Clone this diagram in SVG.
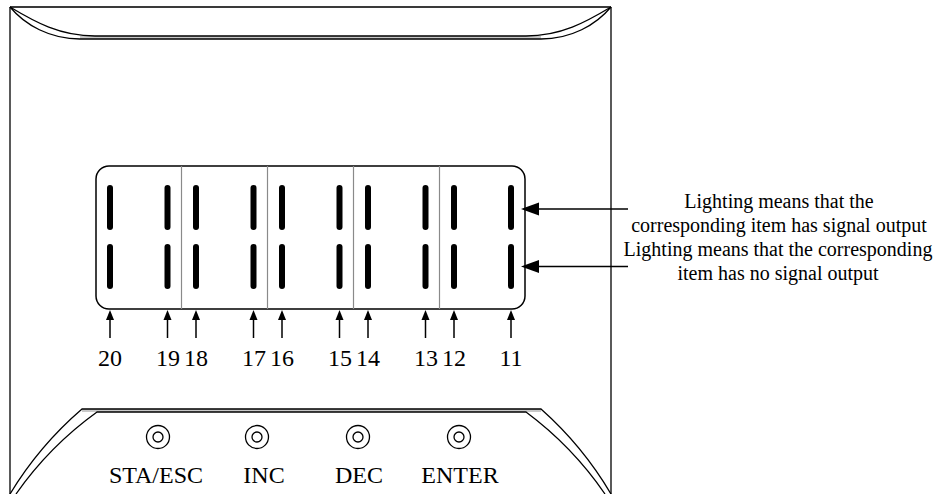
<svg xmlns="http://www.w3.org/2000/svg" width="936" height="494" viewBox="0 0 936 494">
<style>
.ln{fill:none;stroke:#000;stroke-width:1.3}
.band{fill:#c8c8c8;stroke:none}
.seg{stroke:#000;stroke-width:6;stroke-linecap:round}
.div{stroke:#8a8a8a;stroke-width:1.2}
.arr{stroke:#000;stroke-width:1.5}
.ah{fill:#000}
.t{font-family:"Liberation Serif","Times New Roman",serif;fill:#000;text-anchor:middle}
.num{font-size:24px}
.lab{font-size:24px}
.note{font-size:20px}
.btn{fill:none;stroke:#000;stroke-width:1.3}
</style>
<g id="housing">
  <line x1="10" y1="7" x2="611" y2="7" stroke="#3a3a3a" stroke-width="2.2"/>
  <line class="ln" x1="10" y1="7" x2="10" y2="494"/>
  <line class="ln" x1="611" y1="7" x2="611" y2="494"/>
  <rect class="band" x="80" y="36" width="461" height="3"/>
  <path class="ln" d="M10,7 C35,22 60,36 95,36 L526,36 C561,36 586,22 611,7"/>
  <path class="ln" d="M10,7 C25,25 50,39 80,39 L541,39 C571,39 596,25 611,7"/>
  <rect class="band" x="82" y="409" width="459" height="3"/>
  <path class="ln" d="M10,494 A354,354 0 0 1 82,409 L541,409 A354,354 0 0 1 611,494"/>
  <path class="ln" d="M16,494 A345,345 0 0 1 97,412 L526,412 A345,345 0 0 1 605,494"/>
</g>
<g id="display">
  <rect x="96" y="166" width="429" height="143" rx="13" ry="13" fill="none" stroke="#000" stroke-width="1.5"/>
  <line class="div" x1="181.5" y1="166" x2="181.5" y2="309"/>
  <line class="div" x1="267.5" y1="166" x2="267.5" y2="309"/>
  <line class="div" x1="353.5" y1="166" x2="353.5" y2="309"/>
  <line class="div" x1="439.5" y1="166" x2="439.5" y2="309"/>
  <g id="segments">
    <line class="seg" x1="110" y1="188" x2="110" y2="227"/><line class="seg" x1="110" y1="247" x2="110" y2="286"/>
    <line class="seg" x1="167.5" y1="188" x2="167.5" y2="227"/><line class="seg" x1="167.5" y1="247" x2="167.5" y2="286"/>
    <line class="seg" x1="196" y1="188" x2="196" y2="227"/><line class="seg" x1="196" y1="247" x2="196" y2="286"/>
    <line class="seg" x1="253.5" y1="188" x2="253.5" y2="227"/><line class="seg" x1="253.5" y1="247" x2="253.5" y2="286"/>
    <line class="seg" x1="282" y1="188" x2="282" y2="227"/><line class="seg" x1="282" y1="247" x2="282" y2="286"/>
    <line class="seg" x1="339.5" y1="188" x2="339.5" y2="227"/><line class="seg" x1="339.5" y1="247" x2="339.5" y2="286"/>
    <line class="seg" x1="368" y1="188" x2="368" y2="227"/><line class="seg" x1="368" y1="247" x2="368" y2="286"/>
    <line class="seg" x1="425.5" y1="188" x2="425.5" y2="227"/><line class="seg" x1="425.5" y1="247" x2="425.5" y2="286"/>
    <line class="seg" x1="454" y1="188" x2="454" y2="227"/><line class="seg" x1="454" y1="247" x2="454" y2="286"/>
    <line class="seg" x1="511" y1="188" x2="511" y2="227"/><line class="seg" x1="511" y1="247" x2="511" y2="286"/>
  </g>
</g>
<g id="connectors">
  <line class="arr" x1="110" y1="338" x2="110" y2="318"/><polygon class="ah" points="110,310 106,320 114,320"/>
  <line class="arr" x1="167.5" y1="338" x2="167.5" y2="318"/><polygon class="ah" points="167.5,310 163.5,320 171.5,320"/>
  <line class="arr" x1="196" y1="338" x2="196" y2="318"/><polygon class="ah" points="196,310 192,320 200,320"/>
  <line class="arr" x1="253.5" y1="338" x2="253.5" y2="318"/><polygon class="ah" points="253.5,310 249.5,320 257.5,320"/>
  <line class="arr" x1="282" y1="338" x2="282" y2="318"/><polygon class="ah" points="282,310 278,320 286,320"/>
  <line class="arr" x1="339.5" y1="338" x2="339.5" y2="318"/><polygon class="ah" points="339.5,310 335.5,320 343.5,320"/>
  <line class="arr" x1="368" y1="338" x2="368" y2="318"/><polygon class="ah" points="368,310 364,320 372,320"/>
  <line class="arr" x1="425.5" y1="338" x2="425.5" y2="318"/><polygon class="ah" points="425.5,310 421.5,320 429.5,320"/>
  <line class="arr" x1="454" y1="338" x2="454" y2="318"/><polygon class="ah" points="454,310 450,320 458,320"/>
  <line class="arr" x1="511" y1="338" x2="511" y2="318"/><polygon class="ah" points="511,310 507,320 515,320"/>
  <line class="arr" x1="628" y1="209" x2="537" y2="209"/><polygon class="ah" points="521,209 539,202.5 539,215.5"/>
  <line class="arr" x1="628" y1="266.5" x2="537" y2="266.5"/><polygon class="ah" points="521,266.5 539,260 539,273"/>
</g>
<g id="numbers">
  <text class="t num" x="110" y="366">20</text>
  <text class="t num" x="168" y="366">19</text>
  <text class="t num" x="196" y="366">18</text>
  <text class="t num" x="254" y="366">17</text>
  <text class="t num" x="282" y="366">16</text>
  <text class="t num" x="340" y="366">15</text>
  <text class="t num" x="368" y="366">14</text>
  <text class="t num" x="426" y="366">13</text>
  <text class="t num" x="454" y="366">12</text>
  <text class="t num" x="511" y="366">11</text>
</g>
<g id="note-on">
  <text class="t note" x="779" y="208">Lighting means that the</text>
  <text class="t note" x="779" y="232">corresponding item has signal output</text>
</g>
<g id="note-off">
  <text class="t note" x="778" y="256">Lighting means that the corresponding</text>
  <text class="t note" x="778" y="280">item has no signal output</text>
</g>
<g id="btn-sta">
  <circle class="btn" cx="158" cy="437" r="11.5"/><circle class="btn" cx="158" cy="437" r="5"/>
  <text class="t lab" x="156" y="483">STA/ESC</text>
</g>
<g id="btn-inc">
  <circle class="btn" cx="257" cy="437" r="11.5"/><circle class="btn" cx="257" cy="437" r="5"/>
  <text class="t lab" x="264" y="483">INC</text>
</g>
<g id="btn-dec">
  <circle class="btn" cx="358" cy="437" r="11.5"/><circle class="btn" cx="358" cy="437" r="5"/>
  <text class="t lab" x="359" y="483">DEC</text>
</g>
<g id="btn-enter">
  <circle class="btn" cx="459" cy="437" r="11.5"/><circle class="btn" cx="459" cy="437" r="5"/>
  <text class="t lab" x="460" y="483">ENTER</text>
</g>
</svg>
